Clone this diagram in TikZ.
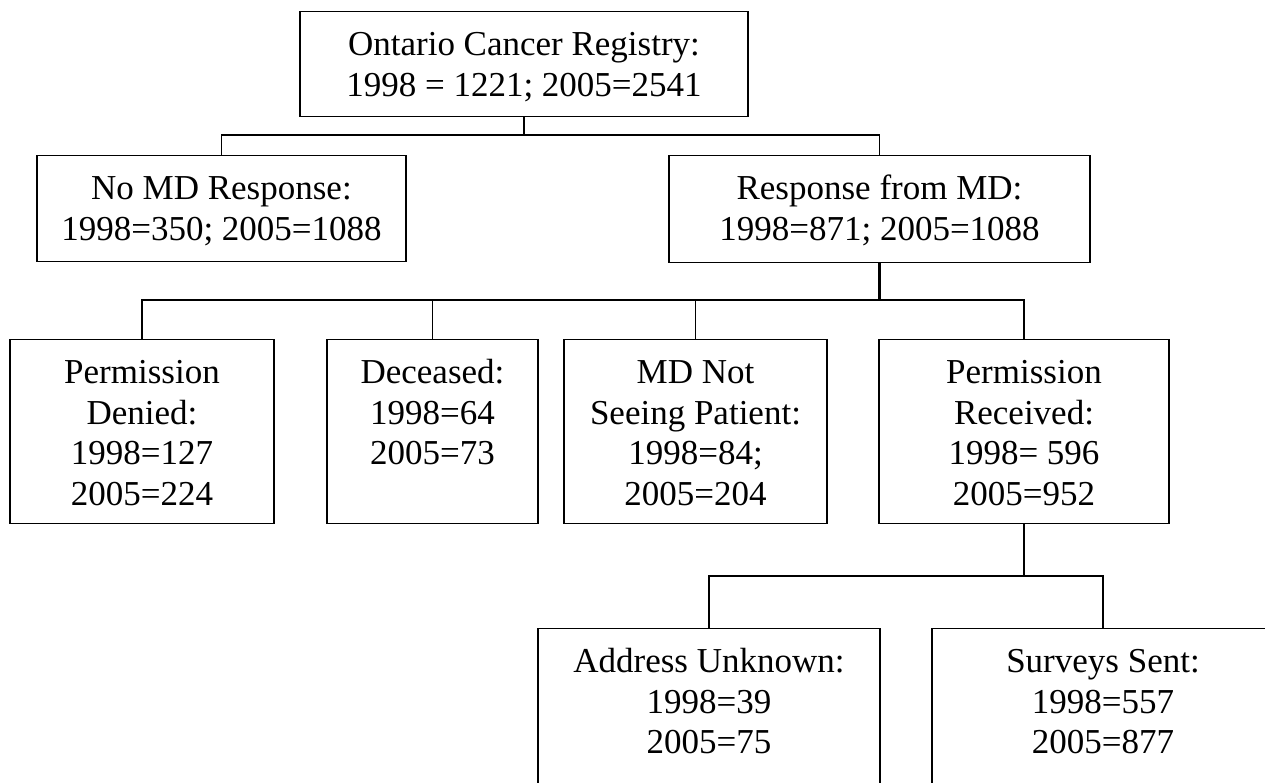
\documentclass[tikz,border=0pt]{standalone}
\usepackage{fontspec}
\setmainfont{Liberation Serif}
\newcommand{\boxtext}[3]{\parbox[t][#2pt][t]{#1pt}{\centering\rule{0pt}{44pt}#3}}

\begin{document}
\begin{tikzpicture}[x=1pt, y=-1pt,
  box/.style={draw, line width=1.3pt, inner sep=0pt, anchor=north,
              font=\fontsize{35}{40.5}\selectfont},
  link/.style={line width=1.3pt},
  trunk/.style={line width=2.4pt}]
\useasboundingbox (0,0) rectangle (1265,782);
\clip (0,0) rectangle (1265,782);

\node[box] (registry) at (524,11)
  {\boxtext{448}{105}{Ontario Cancer Registry:\\1998 = 1221; 2005=2541}};
\node[box] (nomd) at (221.5,155)
  {\boxtext{369}{106}{No MD Response:\\1998=350; 2005=1088}};
\node[box] (response) at (879.5,155)
  {\boxtext{421}{107}{Response from MD:\\1998=871; 2005=1088}};

\node[box] (denied) at (142,339)
  {\boxtext{264}{184}{Permission\\Denied:\\1998=127\\2005=224}};
\node[box] (deceased) at (432.5,339)
  {\boxtext{211}{184}{Deceased:\\1998=64\\2005=73}};
\node[box] (notseeing) at (695.5,339)
  {\boxtext{263}{184}{MD Not\\Seeing Patient:\\1998=84;\\2005=204}};
\node[box] (received) at (1024,339)
  {\boxtext{290}{184}{Permission\\Received:\\1998= 596\\2005=952}};

\node[box] (unknown) at (709,628)
  {\boxtext{342}{200}{Address Unknown:\\1998=39\\2005=75}};
\node[box] (sent) at (1103,628)
  {\boxtext{342}{200}{Surveys Sent:\\1998=557\\2005=877}};

\coordinate (busA) at (0,135);
\coordinate (busB) at (0,300);
\coordinate (busC) at (0,576);

% first split
\draw[link] (registry.south) -- (registry.south |- busA);
\draw[link] (nomd.north) -- (nomd.north |- busA) -- (response.north |- busA) -- (response.north);

% second split
\draw[trunk] (response.south) -- (response.south |- busB) -- (deceased.north |- busB);
\draw[link] (denied.north) -- (denied.north |- busB) -- (deceased.north |- busB) -- (deceased.north);
\draw[link] (response.south |- busB) -- (received.north |- busB) -- (received.north);
\draw[link] (notseeing.north) -- (notseeing.north |- busB);

% third split
\draw[trunk] (received.south) -- (received.south |- busC);
\draw[link] (unknown.north) -- (unknown.north |- busC) -- (sent.north |- busC) -- (sent.north);
\end{tikzpicture}
\end{document}
